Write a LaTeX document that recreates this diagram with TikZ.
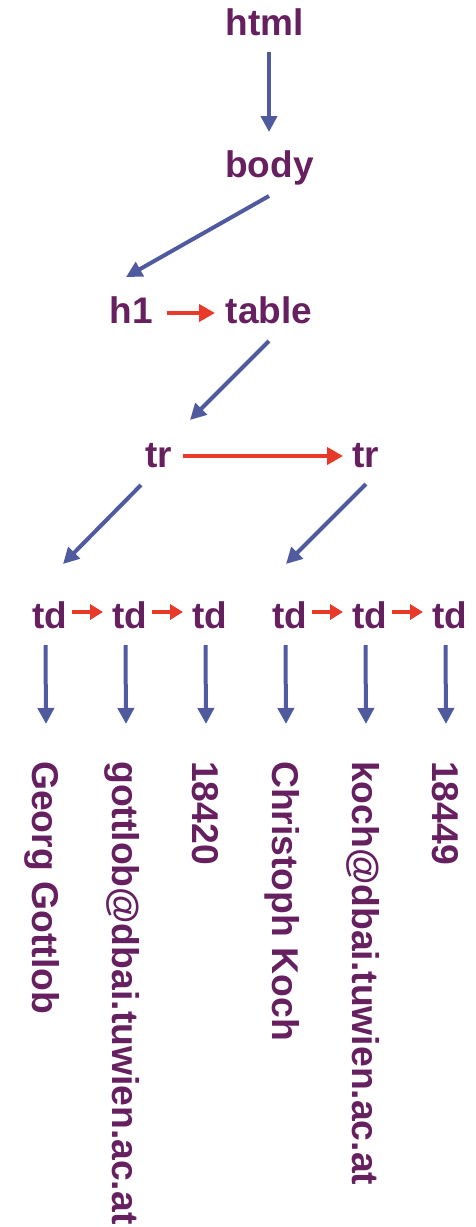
\documentclass[tikz,border=0pt]{standalone}
\usepackage{fontspec}
\setmainfont{Liberation Sans}
\usetikzlibrary{arrows.meta,calc}
\definecolor{tagpurple}{HTML}{662060}
\definecolor{childblue}{HTML}{4F5A9F}
\definecolor{sibred}{HTML}{E8392B}
\begin{document}
\begin{tikzpicture}[x=1pt,y=-1pt,
  tag/.style={text=tagpurple,font=\fontsize{37}{40}\selectfont\bfseries,inner sep=0pt,anchor=base},
  val/.style={tag,font=\fontsize{37.3}{40}\selectfont\bfseries,rotate=-90,anchor=base west},
  child/.style={draw=childblue,line width=4pt,-{Triangle[width=16pt,length=16pt]}},
  sib/.style={draw=sibred,line width=4pt,-{Triangle[width=17pt,length=16pt]}},
  sibsmall/.style={draw=sibred,line width=4pt,-{Triangle[width=15pt,length=13pt]}}]
\useasboundingbox (0,0) rectangle (476,1227);

% element nodes
\node[tag] (html)  at (264.5,35) {html};
\node[tag] (body)  at (269.5,177) {body};
\node[tag] (h1)    at (131.5,323) {h1};
\node[tag] (table) at (269,323) {table};
\node[tag] (trA)   at (158.5,467) {tr};
\node[tag] (trB)   at (366,467) {tr};
\foreach \i/\x in {1/50,2/130,3/210,4/290,5/370,6/450}
  \node[tag] (td\i) at (\x,628) {td};

% cell values, written top to bottom
\node[val] (v1) at (32.5,761) {Georg Gottlob};
\node[val] (v2) at (112.5,761) {gottlob@dbai.tuwien.ac.at};
\node[val] (v3) at (192.5,761) {18420};
\node[val] (v4) at (272.5,761) {Christoph Koch};
\node[val] (v5) at (352.5,761) {koch@dbai.tuwien.ac.at};
\node[val] (v6) at (432.5,761) {18449};

% parent -> child edges
\draw[child] ($(html.base)+(4.5,17)$) -- ($(body.base)+(-0.5,-45)$);
\draw[child] ($(body.base)+(-0.5,19)$) -- ($(h1.base)+(-5.5,-46)$);
\draw[child] ($(table.base)+(0,18)$) -- ($(trA.base)+(31.5,-47)$);
\draw[child] ($(trA.base)+(-17.5,18)$) -- ($(td1.base)+(13,-64)$);
\draw[child] ($(trB.base)+(0,17)$) -- ($(td4.base)+(-4,-64)$);
\foreach \i in {1,...,6}
  \draw[child] ($(td\i.base)+(-4.5,17)$) -- ($(v\i.base west)+(13.5,-37)$);

% sibling edges
\draw[sib] ($(h1.base)+(35.5,-10)$) -- ($(table.base)+(-54,-10)$);
\draw[sib] ($(trA.base)+(24.5,-11)$) -- ($(trB.base)+(-23,-11)$);
\foreach \a/\b in {1/2,2/3,4/5,5/6}
  \draw[sibsmall] ($(td\a.base)+(22,-16)$) -- ($(td\b.base)+(-27,-16)$);
\end{tikzpicture}
\end{document}
